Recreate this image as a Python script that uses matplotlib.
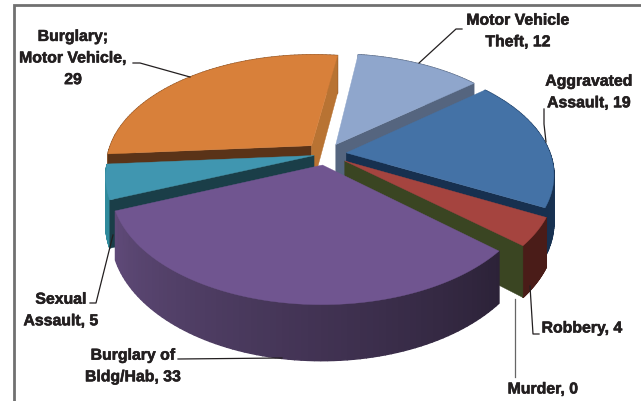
#!/usr/bin/env python3
"""Exploded 3D-look pie of offence counts, projected by hand onto a flat axes."""

import numpy as np
import matplotlib

matplotlib.use("Agg")
import matplotlib.patheffects as pe
import matplotlib.pyplot as plt
from matplotlib.colors import to_rgb

CATEGORIES = ["Motor Vehicle Theft", "Aggravated Assault", "Murder", "Robbery",
              "Burglary of Bldg/Hab", "Sexual Assault", "Burglary; Motor Vehicle"]
VALUES = [12, 19, 0, 4, 33, 5, 29]
EXPLODE = [0.10, 0.10, 0.10, 0.11, 0.10, 0.06, 0.105]

TOP_COLORS = ["#8FA6CC", "#4472A6", "#3A4522", "#A5443F", "#705590", "#4096B0", "#D8803A"]
# None = that radial face is hidden from this viewpoint
START_FACES = [None, None, None, None, None, "#1A3E48", "#5A3318"]
END_FACES = ["#55657F", "#17304F", None, "#3A4522", None, None, "#B87333"]
SIDE_COLORS = [("#55657F", "#55657F"), ("#1D3E66", "#17304F"), ("#3A4522", "#3A4522"),
               ("#4A1C18", "#4A1C18"), ("#2C2238", "#5F4A78"), ("#2F8A9C", "#2F8A9C"),
               ("#8A5226", "#8A5226")]
DRAW_ORDER = [6, 0, 1, 5, 3, 4]

# perspective model, in pixels
CX, CY = 326, 155
RX, RY = 204, 110
PERSP = 0.18
DEPTH = 45
START_DEG = 8


def project(x, y, drop=0.0):
    s = 1 / (1 + PERSP * y)
    return CX + RX * x * s, CY - RY * y * s + drop * s


def wedge_rim(a0, a1, off, n=80):
    t = np.radians(np.linspace(a0, a1, n))
    return np.sin(t) + off[0], np.cos(t) + off[1]


def draw_wedge(ax, i, a0, a1):
    mid = np.radians((a0 + a1) / 2)
    off = (EXPLODE[i] * np.sin(mid), EXPLODE[i] * np.cos(mid))
    xs, ys = wedge_rim(a0, a1, off)

    # outer wall, strip by strip so it can carry a shade
    c0, c1 = (np.array(to_rgb(c)) for c in SIDE_COLORS[i])
    for k in range(len(xs) - 1):
        f = k / (len(xs) - 2)
        px0, py0 = project(xs[k], ys[k])
        px1, py1 = project(xs[k + 1], ys[k + 1])
        qx0, qy0 = project(xs[k], ys[k], DEPTH)
        qx1, qy1 = project(xs[k + 1], ys[k + 1], DEPTH)
        col = c0 * (1 - f) + c1 * f
        ax.fill([px0, px1, qx1, qx0], [py0, py1, qy1, qy0], color=col, lw=1.0)

    # radial faces
    for x, y, col in ((xs[0], ys[0], START_FACES[i]), (xs[-1], ys[-1], END_FACES[i])):
        if col is None:
            continue
        tx, ty = project(*off)
        ux, uy = project(off[0], off[1], DEPTH)
        ex, ey = project(x, y)
        fx, fy = project(x, y, DEPTH)
        ax.fill([tx, ex, fx, ux], [ty, ey, fy, uy], color=col, lw=0.3)

    px, py = project(np.r_[off[0], xs], np.r_[off[1], ys])
    ax.fill(px, py, color=TOP_COLORS[i], lw=0.3)


fig = plt.figure(figsize=(6.41, 4.02), dpi=100)
ax = fig.add_axes([0, 0, 1, 1])
ax.set_xlim(0, 641)
ax.set_ylim(402, 0)
ax.axis("off")

# chart frame, cut off by the crop on the right and bottom
ax.plot([14, 14, 641], [402, 5.5, 5.5], color="#707070", lw=2, solid_joinstyle="miter")

angles = START_DEG + np.r_[0, np.cumsum(VALUES)] / sum(VALUES) * 360
for i in DRAW_ORDER:
    draw_wedge(ax, i, angles[i], angles[i + 1])

FONT = dict(family="Liberation Sans", fontweight="bold", fontsize=11.4, color="#231F20",
            ha="center", va="center", linespacing=1.55,
            path_effects=[pe.withStroke(linewidth=0.4, foreground="#231F20")])
ax.text(73, 59, "Burglary;\nMotor Vehicle,\n29", **FONT)
ax.text(518, 32, "Motor Vehicle\nTheft, 12", **FONT)
ax.text(589, 93, "Aggravated\nAssault, 19", **FONT)
ax.text(61, 311, "Sexual\nAssault, 5", **FONT)
ax.text(133, 367, "Burglary of\nBldg/Hab, 33", **FONT)
ax.text(582, 329, "Robbery, 4", **FONT)
ax.text(543, 390, "Murder, 0", **FONT)

LEADERS = [([133, 140, 190], [64, 64, 78], "#231F20"),
           ([462, 456, 419], [30, 30, 64], "#231F20"),
           ([544, 544, 546], [110, 125, 143], "#231F20"),
           ([90, 96, 113], [304, 304, 236], "#231F20"),
           ([178, 282], [360, 359], "#231F20"),
           ([539, 533, 530], [335, 335, 287], "#231F20"),
           ([515, 515], [378, 300], "#666666")]
for lx, ly, col in LEADERS:
    ax.plot(lx, ly, color=col, lw=0.9)

fig.savefig("out.png", dpi=100)
